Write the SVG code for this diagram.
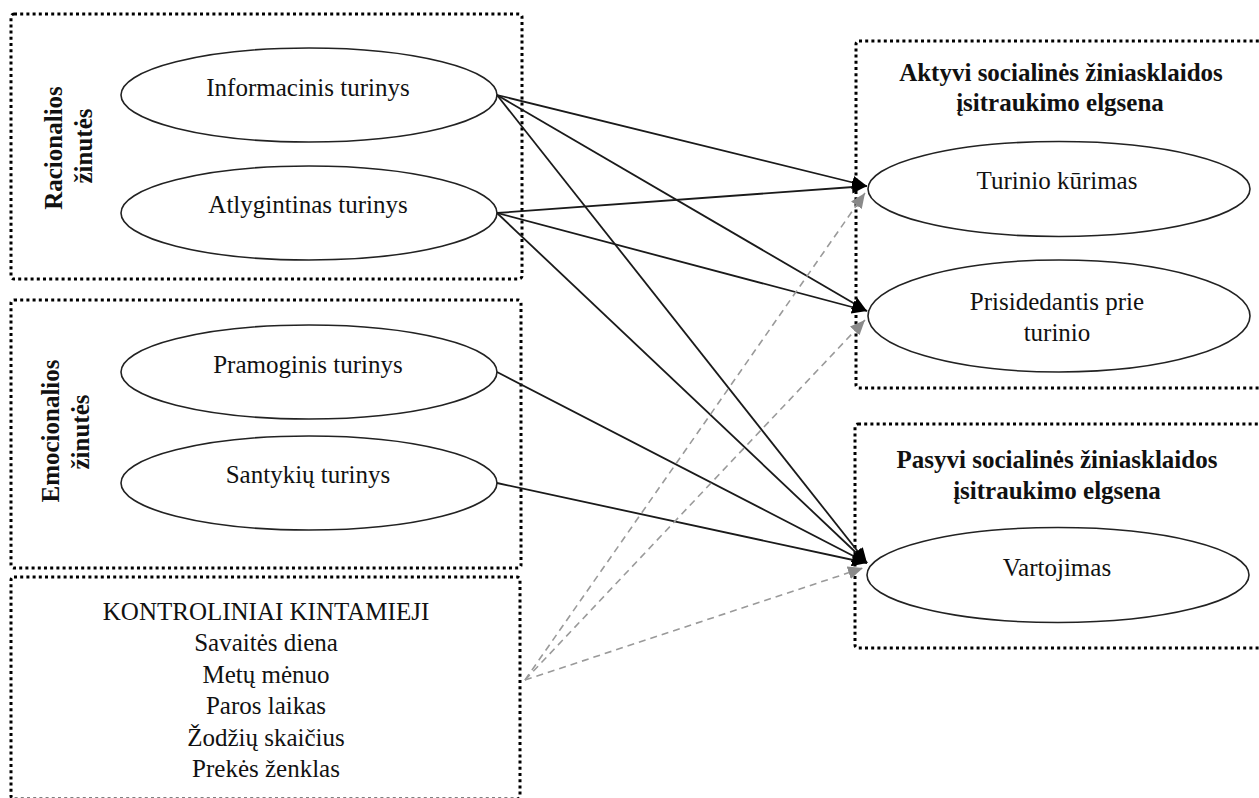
<svg xmlns="http://www.w3.org/2000/svg" width="1259" height="798" viewBox="0 0 1259 798">
  <style>
    .frame { fill: none; stroke: #000; stroke-width: 3; stroke-dasharray: 3 3.2; }
    .node { fill: #fff; stroke: #222; stroke-width: 1.6; }
    .lbl { font-family: "Liberation Serif", "Times New Roman", serif; font-size: 25px; fill: #111; text-anchor: middle; }
    .bold { font-weight: bold; }
    .link { stroke: #1a1a1a; stroke-width: 1.8; fill: none; marker-end: url(#headBlack); }
    .ctrl { stroke: #9a9a9a; stroke-width: 1.6; fill: none; stroke-dasharray: 7 5; marker-end: url(#headGray); }
  </style>
  <defs>
    <marker id="headBlack" markerUnits="userSpaceOnUse" markerWidth="15" markerHeight="13" refX="15" refY="6.5" orient="auto">
      <path d="M0,0 L15,6.5 L0,13 z" fill="#000"/>
    </marker>
    <marker id="headGray" markerUnits="userSpaceOnUse" markerWidth="15" markerHeight="13" refX="15" refY="6.5" orient="auto">
      <path d="M0,0 L15,6.5 L0,13 z" fill="#8a8a8a"/>
    </marker>
  </defs>

  <rect width="1259" height="798" fill="#fff"/>

  <!-- group frames -->
  <g id="group-rational">
    <rect class="frame" x="11" y="14" width="511" height="265" rx="3"/>
    <text class="lbl bold" transform="translate(62,148) rotate(-90)">Racionalios</text>
    <text class="lbl bold" transform="translate(92,146) rotate(-90)">žinutės</text>
  </g>
  <g id="group-emotional">
    <rect class="frame" x="11" y="300" width="510" height="268" rx="3"/>
    <text class="lbl bold" transform="translate(59,431) rotate(-90)">Emocionalios</text>
    <text class="lbl bold" transform="translate(89,432) rotate(-90)">žinutės</text>
  </g>
  <g id="group-controls">
    <rect class="frame" x="11" y="577" width="509" height="222" rx="3"/>
    <text class="lbl" x="266" y="620">KONTROLINIAI KINTAMIEJI</text>
    <text class="lbl" x="266" y="651">Savaitės diena</text>
    <text class="lbl" x="266" y="683">Metų mėnuo</text>
    <text class="lbl" x="266" y="714">Paros laikas</text>
    <text class="lbl" x="266" y="746">Žodžių skaičius</text>
    <text class="lbl" x="266" y="777">Prekės ženklas</text>
  </g>
  <g id="group-active">
    <rect class="frame" x="856" y="41" width="412" height="347" rx="3"/>
    <text class="lbl bold" x="1061" y="81">Aktyvi socialinės žiniasklaidos</text>
    <text class="lbl bold" x="1060" y="111">įsitraukimo elgsena</text>
  </g>
  <g id="group-passive">
    <rect class="frame" x="855" y="424" width="412" height="224" rx="3"/>
    <text class="lbl bold" x="1057" y="468">Pasyvi socialinės žiniasklaidos</text>
    <text class="lbl bold" x="1057" y="499">įsitraukimo elgsena</text>
  </g>

  <!-- source nodes -->
  <g id="node-informacinis">
    <ellipse class="node" cx="309" cy="95" rx="188" ry="47"/>
    <text class="lbl" x="308" y="96">Informacinis turinys</text>
  </g>
  <g id="node-atlygintinas">
    <ellipse class="node" cx="309" cy="213" rx="188" ry="47"/>
    <text class="lbl" x="308" y="213">Atlygintinas turinys</text>
  </g>
  <g id="node-pramoginis">
    <ellipse class="node" cx="309" cy="372" rx="188" ry="47"/>
    <text class="lbl" x="308" y="373">Pramoginis turinys</text>
  </g>
  <g id="node-santykiu">
    <ellipse class="node" cx="309" cy="483" rx="188" ry="47"/>
    <text class="lbl" x="308" y="483">Santykių turinys</text>
  </g>

  <!-- outcome nodes -->
  <g id="node-kurimas">
    <ellipse class="node" cx="1059" cy="189" rx="191" ry="47.5"/>
    <text class="lbl" x="1057" y="189">Turinio kūrimas</text>
  </g>
  <g id="node-prisidedantis">
    <ellipse class="node" cx="1059" cy="316" rx="191" ry="56"/>
    <text class="lbl" x="1057" y="310">Prisidedantis prie</text>
    <text class="lbl" x="1057" y="341">turinio</text>
  </g>
  <g id="node-vartojimas">
    <ellipse class="node" cx="1058" cy="575" rx="191" ry="47.5"/>
    <text class="lbl" x="1057" y="576">Vartojimas</text>
  </g>

  <!-- connectors -->
  <g id="connectors">
    <line class="link" x1="497" y1="95" x2="867" y2="186"/>
    <line class="link" x1="497" y1="95" x2="867" y2="311"/>
    <line class="link" x1="497" y1="95" x2="867" y2="563"/>
    <line class="link" x1="497" y1="213" x2="867" y2="186"/>
    <line class="link" x1="497" y1="213" x2="867" y2="311"/>
    <line class="link" x1="497" y1="213" x2="867" y2="563"/>
    <line class="link" x1="497" y1="372" x2="867" y2="563"/>
    <line class="link" x1="497" y1="483" x2="867" y2="563"/>
    <line class="ctrl" x1="525" y1="680" x2="865" y2="193"/>
    <line class="ctrl" x1="525" y1="680" x2="865" y2="320"/>
    <line class="ctrl" x1="525" y1="680" x2="863" y2="568"/>
  </g>
</svg>
